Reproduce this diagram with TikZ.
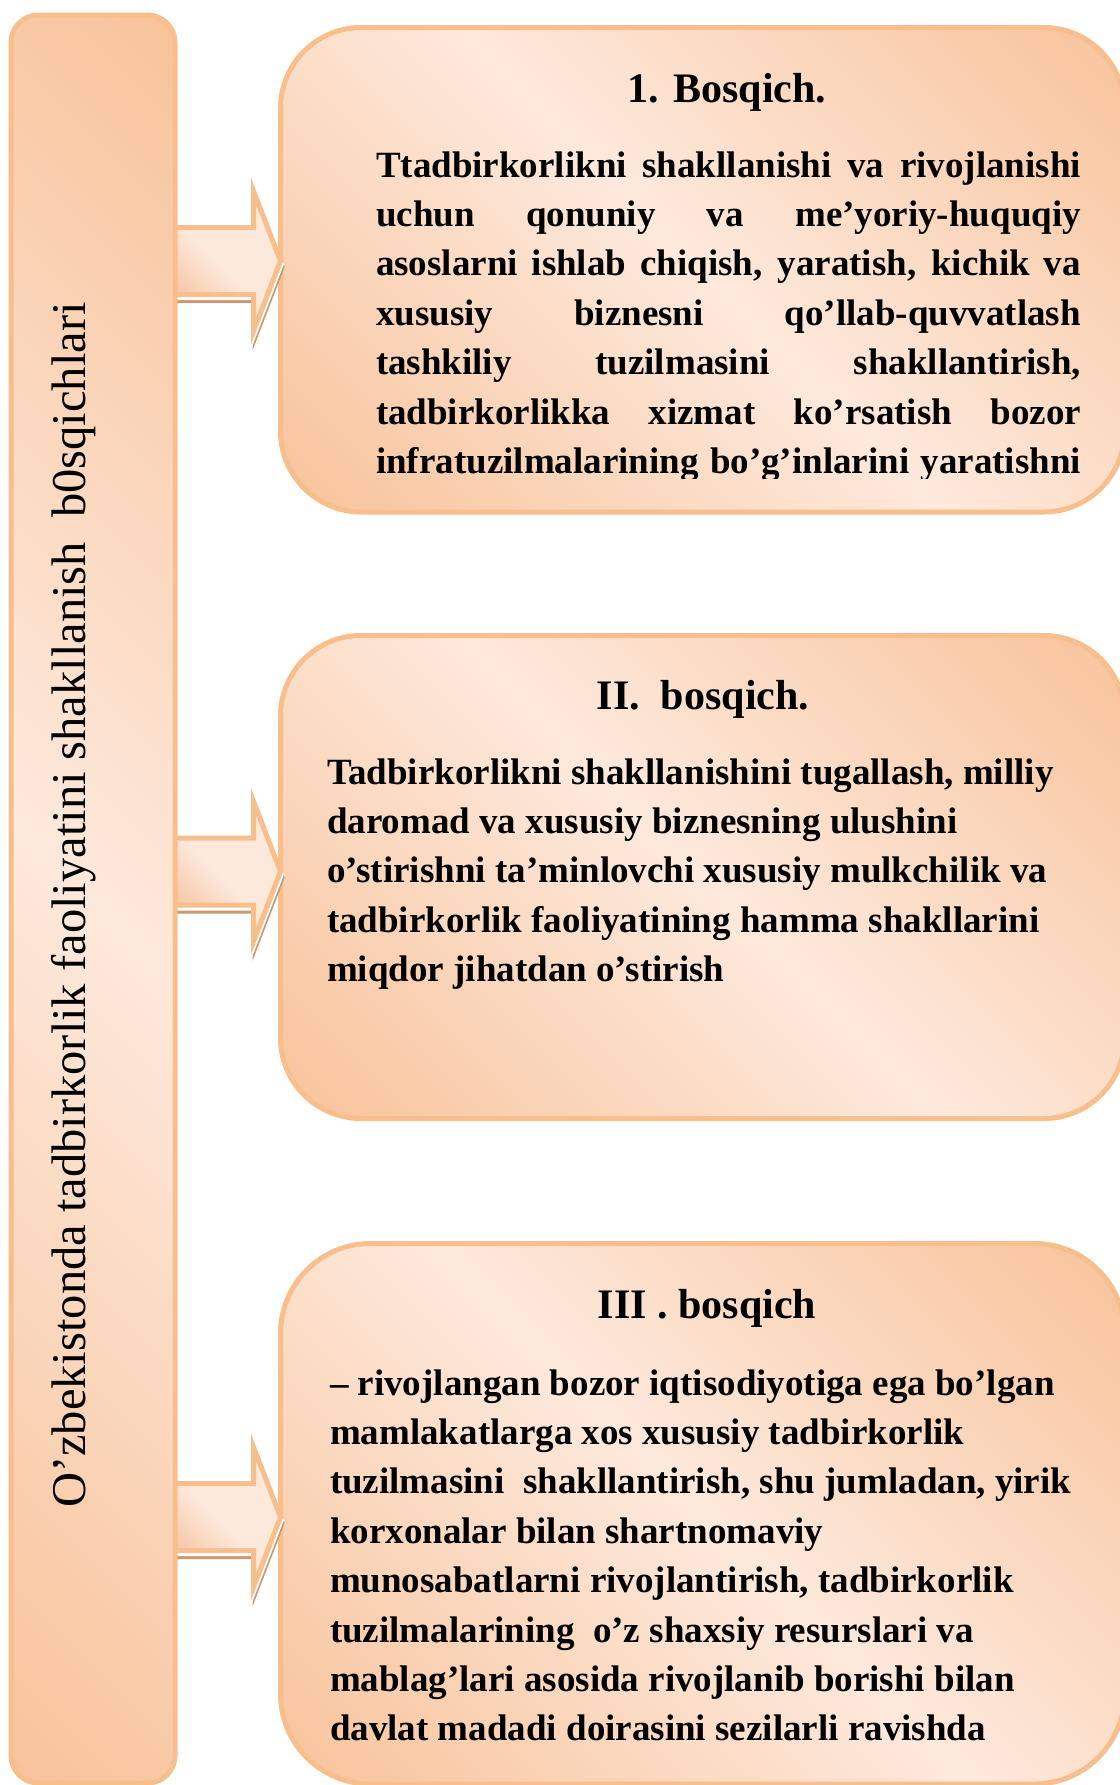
\documentclass[tikz,border=0pt]{standalone}
\usepackage{fontspec}
\setmainfont{Liberation Serif}
\usetikzlibrary{calc}

\definecolor{edgeorange}{HTML}{F8BE8C}
\definecolor{fillpale}{HTML}{FDE9DC}
\definecolor{filldeep}{HTML}{F8C39B}
\definecolor{arrowdeep}{HTML}{F5C2A0}
\definecolor{shadowbrown}{HTML}{C99872}

% light band along the main diagonal, deeper tone in the two other corners
\pgfdeclareverticalshading{bandshade}{100bp}{%
  color(0bp)=(filldeep); color(15bp)=(filldeep); color(50bp)=(fillpale);
  color(85bp)=(filldeep); color(100bp)=(filldeep)}
% arrow body: deeper tone only towards the lower left corner
\pgfdeclareverticalshading{arrowshade}{100bp}{%
  color(0bp)=(arrowdeep); color(25bp)=(arrowdeep); color(48bp)=(fillpale);
  color(100bp)=(fillpale)}

\pgfdeclarelayer{panels}
\pgfdeclarelayer{links}
\pgfsetlayers{panels,links,main}

% use the font's own (stretchable) interword space inside aligned nodes
\newcommand\fontspaces{\spaceskip=0pt\xspaceskip=0pt\relax}

\begin{document}
\begin{tikzpicture}[x=0.5pt, y=-0.5pt,
  panel/.style={draw=edgeorange, line width=2.5pt, shade, shading=bandshade,
    shading angle=-45, inner sep=0pt, outer sep=0pt},
  stagebox/.style={panel, minimum width=422pt},
  blockarrow/.style={draw=edgeorange, line width=2.5pt, shade,
    shading=arrowshade, shading angle=-45},
  arrowshadow/.style={draw=shadowbrown, fill=shadowbrown, line width=2.5pt},
  arrowgap/.style={draw=white, fill=white, line width=2.5pt},
  % block arrow from the side bar to stage box #1, centred on height #2
  stagearrow/.style 2 args={insert path={
    ($(bar.east |- 0,#2)+(-8,-33.5)$) -- ($(#1.west |- 0,#2)+(-27,-33.5)$)
    -- ($(#1.west |- 0,#2)+(-27,-70)$) -- (#1.west |- 0,#2)
    -- ($(#1.west |- 0,#2)+(-27,70)$) -- ($(#1.west |- 0,#2)+(-27,33.5)$)
    -- ($(bar.east |- 0,#2)+(-8,33.5)$) -- cycle}},
  titletext/.style={font=\bfseries\fontsize{21pt}{25pt}\selectfont,
    inner sep=0pt, outer sep=0pt, anchor=base},
  bodytext/.style={font=\bfseries\fontsize{18.5pt}{24.7pt}\selectfont,
    inner sep=0pt, outer sep=0pt, anchor=base west, align=left},
  bartext/.style={font=\fontsize{24.25pt}{29pt}\selectfont,
    inner sep=0pt, outer sep=0pt, anchor=base, rotate=90}
]
\useasboundingbox (0,0) rectangle (1120,1785);

% stage boxes
\begin{pgfonlayer}{panels}
  \fill[white] (0,0) rectangle (1120,1785);
  \node[stagebox, minimum height=242.25pt, rounded corners=40.4pt]
    (box1) at (702.5,269.75) {};
  \node[stagebox, minimum height=241.5pt, rounded corners=40.25pt]
    (box2) at (702.5,877) {};
  \node[stagebox, minimum height=270.25pt, rounded corners=45pt]
    (box3) at (702.5,1513.75) {};
\end{pgfonlayer}

% side bar with the vertical heading
\node[panel, minimum width=82pt, minimum height=884pt, rounded corners=13.7pt]
  (bar) at (93,899) {};
\node[bartext] (bartitle) at (85,905)
  {O’zbekistonda tadbirkorlik faoliyatini shakllanish\ \ b0sqichlari};

% arrows from the bar to each stage
\begin{pgfonlayer}{links}
  \foreach \target/\level in {box1/261, box2/871.5, box3/1517} {
    \begin{scope}[transform canvas={shift={(0.75pt,-3pt)}}]
      \path[arrowshadow, stagearrow={\target}{\level}];
    \end{scope}
    \begin{scope}[transform canvas={shift={(0.35pt,-1.6pt)}}]
      \path[arrowgap, stagearrow={\target}{\level}];
    \end{scope}
    \path[blockarrow, stagearrow={\target}{\level}];
  }
\end{pgfonlayer}

% stage 1
\node[titletext] (title1) at (727,102) {1. Bosqich.};
\begin{scope}
  \clip (360,120) rectangle (1100,478);
  \node[bodytext, text width=352.5pt] (body1) at (376,177) {\fontspaces
    \makebox[352.5pt][s]{Ttadbirkorlikni shakllanishi va rivojlanishi}\\
    \makebox[352.5pt][s]{uchun qonuniy va me’yoriy-huquqiy}\\
    \makebox[352.5pt][s]{asoslarni ishlab chiqish, yaratish, kichik va}\\
    \makebox[352.5pt][s]{xususiy biznesni qo’llab-quvvatlash}\\
    \makebox[352.5pt][s]{tashkiliy tuzilmasini shakllantirish,}\\
    \makebox[352.5pt][s]{tadbirkorlikka xizmat ko’rsatish bozor}\\
    \makebox[352.5pt][s]{infratuzilmalarining bo’g’inlarini yaratishni}};
\end{scope}

% stage 2
\node[titletext] (title2) at (703,709) {II.\ \ bosqich.};
\node[bodytext, text width=390pt] (body2) at (327,784) {\fontspaces
  Tadbirkorlikni shakllanishini tugallash, milliy\\
  daromad va xususiy biznesning ulushini\\
  o’stirishni ta’minlovchi xususiy mulkchilik va\\
  tadbirkorlik faoliyatining hamma shakllarini\\
  miqdor jihatdan o’stirish};

% stage 3
\node[titletext] (title3) at (707,1318) {III . bosqich};
\node[bodytext, text width=390pt] (body3) at (330,1395) {\fontspaces
  – rivojlangan bozor iqtisodiyotiga ega bo’lgan\\
  mamlakatlarga xos xususiy tadbirkorlik\\
  tuzilmasini\ \ shakllantirish, shu jumladan, yirik\\
  korxonalar bilan shartnomaviy\\
  munosabatlarni rivojlantirish, tadbirkorlik\\
  tuzilmalarining\ \ o’z shaxsiy resurslari va\\
  mablag’lari asosida rivojlanib borishi bilan\\
  davlat madadi doirasini sezilarli ravishda};
\end{tikzpicture}
\end{document}
